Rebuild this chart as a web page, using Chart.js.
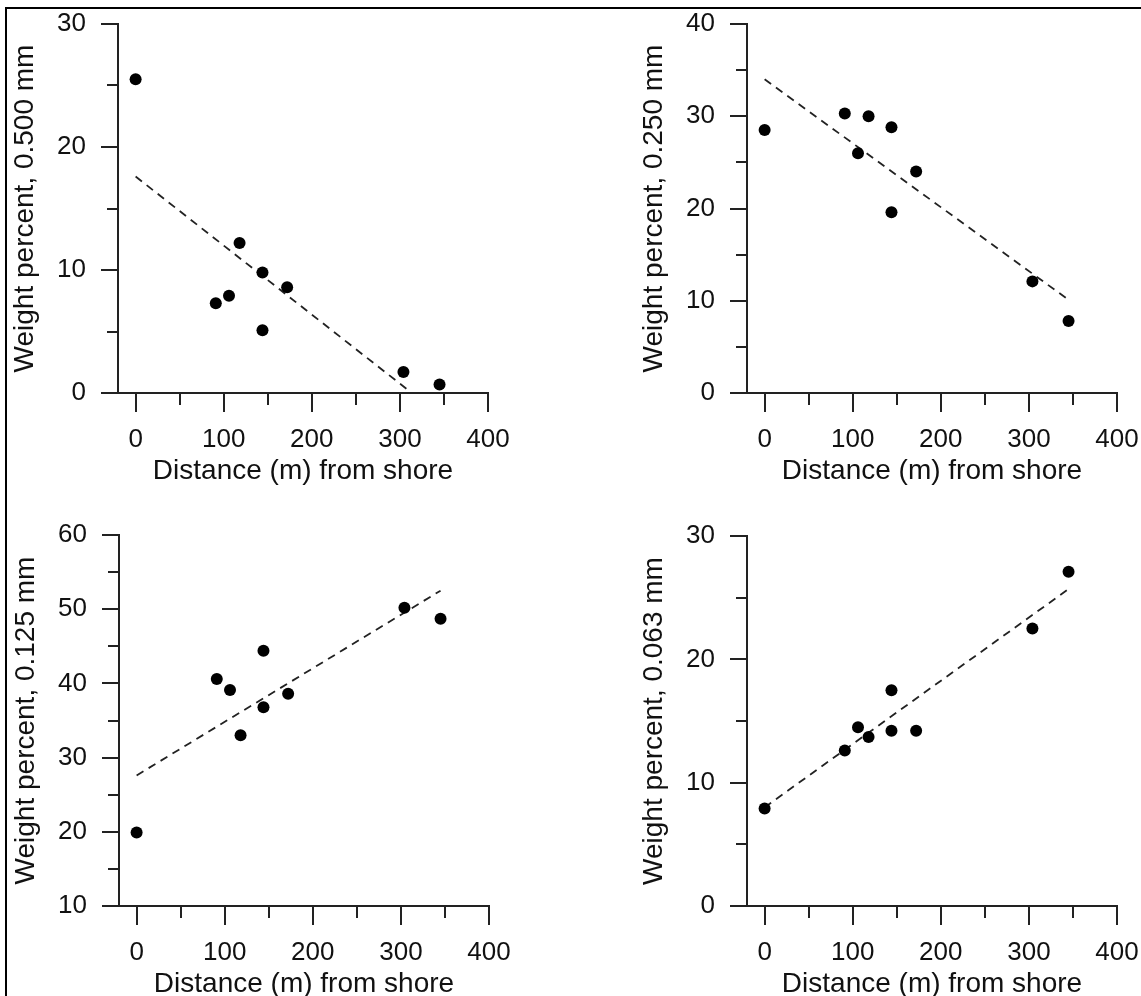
<!DOCTYPE html>
<html>
<head>
<meta charset="utf-8">
<script src="https://cdn.jsdelivr.net/npm/chart.js@4"></script>
<style>
  body { margin: 0; background: #fff; }
  #page { position: relative; width: 1141px; height: 996px; overflow: hidden; background: #fff; }
  #frame { position: absolute; left: 5px; top: 7px; right: -10px; bottom: -10px;
           border-top: 2px solid #000; border-left: 2px solid #000; }
  canvas { position: absolute; }
</style>
</head>
<body>
<div id="page">
  <div id="frame"></div>
  <canvas id="c1" width="570" height="520" style="left:0px;top:0px"></canvas>
  <canvas id="c2" width="570" height="520" style="left:570px;top:0px"></canvas>
  <canvas id="c3" width="570" height="520" style="left:0px;top:490px"></canvas>
  <canvas id="c4" width="570" height="520" style="left:570px;top:490px"></canvas>
</div>
<script>
// station distances (m) shared by all four panels
const distance = [0, 91, 106, 118, 144, 144, 172, 304, 345];

// weight percent per grain size
const wt500 = [25.5, 7.3, 7.9, 12.2, 9.8, 5.1, 8.6, 1.7, 0.7];
const wt250 = [28.5, 30.3, 26.0, 30.0, 28.8, 19.6, 24.0, 12.1, 7.8];
const wt125 = [19.9, 40.6, 39.1, 33.0, 44.4, 36.8, 38.6, 50.2, 48.7];
const wt063 = [7.9, 12.6, 14.5, 13.7, 17.5, 14.2, 14.2, 22.5, 27.1];

// dashed trend lines (end points)
const trend500X = [0, 310], trend500Y = [17.6, 0.2];
const trend250X = [0, 345], trend250Y = [34.0, 10.1];
const trend125X = [0, 345], trend125Y = [27.6, 52.5];
const trend063X = [0, 345], trend063Y = [8.0, 25.7];

// tick labels
const xTicks = [0, 100, 200, 300, 400];
const yTicks500 = [0, 10, 20, 30];
const yTicks250 = [0, 10, 20, 30, 40];
const yTicks125 = [10, 20, 30, 40, 50, 60];
const yTicks063 = [0, 10, 20, 30];

const xTitle = 'Distance (m) from shore';
const FONT = "'Liberation Sans', Arial, sans-serif";
const INK = '#111';
const Y_W = 118, X_H = 100;

// major/minor tick marks drawn against the library scales
const tickMarks = {
  id: 'tickMarks',
  afterDraw(chart) {
    const ctx = chart.ctx, a = chart.chartArea;
    const xs = chart.scales.x, ys = chart.scales.y;
    const yt = chart.options.plugins.tickMarks.yTicks;
    ctx.save();
    ctx.strokeStyle = '#222';
    ctx.lineWidth = 2;
    ctx.beginPath();
    xTicks.forEach((v, i) => {
      let px = Math.round(xs.getPixelForValue(v));
      ctx.moveTo(px, a.bottom); ctx.lineTo(px, a.bottom + 19);
      if (i < xTicks.length - 1) {
        px = Math.round(xs.getPixelForValue((v + xTicks[i + 1]) / 2));
        ctx.moveTo(px, a.bottom); ctx.lineTo(px, a.bottom + 12);
      }
    });
    yt.forEach((v, i) => {
      let py = Math.round(ys.getPixelForValue(v));
      ctx.moveTo(a.left, py); ctx.lineTo(a.left - 17, py);
      if (i < yt.length - 1) {
        py = Math.round(ys.getPixelForValue((v + yt[i + 1]) / 2));
        ctx.moveTo(a.left, py); ctx.lineTo(a.left - 11, py);
      }
    });
    ctx.stroke();
    ctx.restore();
  }
};

function makePanel(id, box, area, yTitle, yTicks, values, tX, tY) {
  const points = distance.map((d, i) => ({x: d, y: values[i]}));
  const trend = tX.map((d, i) => ({x: d, y: tY[i]}));
  new Chart(document.getElementById(id), {
    type: 'scatter',
    data: {
      datasets: [{
        data: points,
        pointRadius: 6,
        pointBackgroundColor: '#000',
        pointBorderWidth: 0
      }, {
        data: trend,
        showLine: true,
        pointRadius: 0,
        borderColor: '#222',
        borderWidth: 1.8,
        borderDash: [8, 6]
      }]
    },
    options: {
      responsive: false,
      animation: false,
      devicePixelRatio: 1,
      layout: {
        padding: {
          left: area[0] - box[0] - Y_W,
          top: area[1] - box[1],
          right: box[0] + 570 - area[2],
          bottom: box[1] + 520 - area[3] - X_H
        }
      },
      plugins: {
        legend: { display: false },
        tooltip: { enabled: false },
        tickMarks: { yTicks: yTicks }
      },
      scales: {
        x: {
          type: 'linear',
          min: -20,
          max: 400,
          afterBuildTicks: s => { s.ticks = xTicks.map(v => ({value: v})); },
          afterFit: s => { s.height = X_H; s.paddingLeft = 0; s.paddingRight = 0; },
          grid: { display: false, drawTicks: false },
          border: { display: true, color: '#222', width: 2 },
          ticks: { color: INK, padding: 31, font: { family: FONT, size: 26 } },
          title: { display: true, text: xTitle, color: INK, padding: { top: 0, bottom: 5 },
                   font: { family: FONT, size: 28 } }
        },
        y: {
          min: yTicks[0],
          max: yTicks[yTicks.length - 1],
          afterBuildTicks: s => { s.ticks = yTicks.map(v => ({value: v})); },
          afterFit: s => { s.width = Y_W; s.paddingTop = 0; s.paddingBottom = 0; },
          grid: { display: false, drawTicks: false },
          border: { display: true, color: '#222', width: 2 },
          ticks: { color: INK, padding: 32, font: { family: FONT, size: 26 } },
          title: { display: true, text: yTitle, color: INK, padding: { top: 8, bottom: 0 },
                   font: { family: FONT, size: 28 } }
        }
      }
    },
    plugins: [tickMarks]
  });
}

makePanel('c1', [0, 0], [118, 24, 488, 393], 'Weight percent, 0.500 mm', yTicks500, wt500, trend500X, trend500Y);
makePanel('c2', [570, 0], [747, 24, 1117, 393], 'Weight percent, 0.250 mm', yTicks250, wt250, trend250X, trend250Y);
makePanel('c3', [0, 490], [119, 535, 489, 906], 'Weight percent, 0.125 mm', yTicks125, wt125, trend125X, trend125Y);
makePanel('c4', [570, 490], [747, 536, 1117, 906], 'Weight percent, 0.063 mm', yTicks063, wt063, trend063X, trend063Y);
</script>
</body>
</html>
